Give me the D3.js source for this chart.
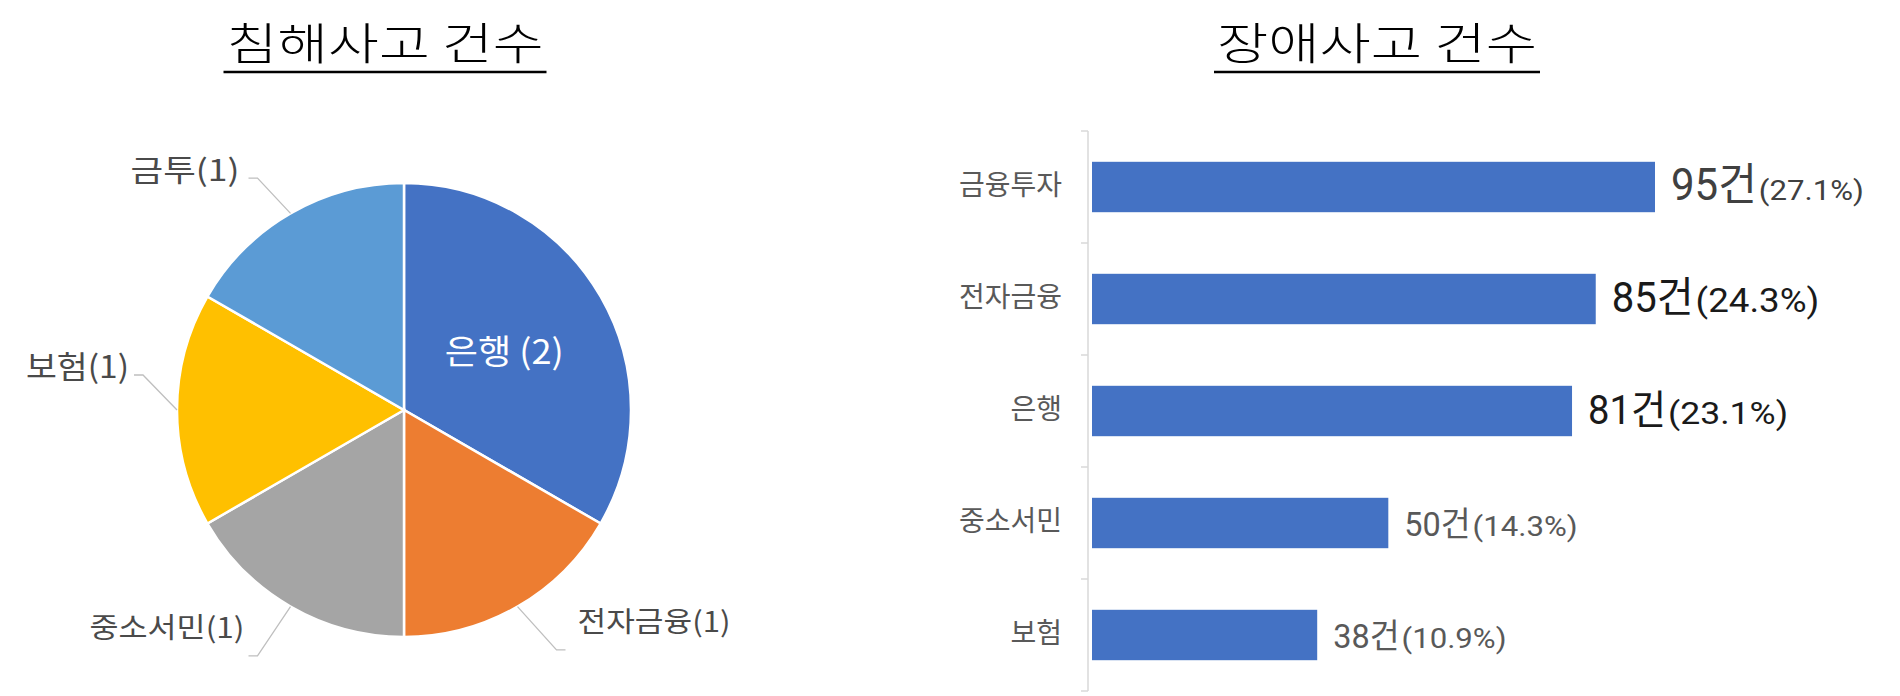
<!DOCTYPE html>
<html>
<head>
<meta charset="utf-8">
<script src="https://cdn.jsdelivr.net/npm/d3@7"></script>
<style>
  body { margin: 0; background: #fff; }
  svg { display: block; font-family: "Noto Sans CJK KR", "Noto Sans", sans-serif; }
</style>
</head>
<body>
<svg id="chart" width="1900" height="696"></svg>
<script>
// ---- data ----
var pieTitle = "침해사고  건수";
var pieCats = ["은행", "전자금융", "중소서민", "보험", "금투"];
var pieVals = [2, 1, 1, 1, 1];

var barTitle = "장애사고  건수";
var barCats = ["금융투자", "전자금융", "은행", "중소서민", "보험"];
var barVals = [95, 85, 81, 50, 38];
var barPcts = ["27.1%", "24.3%", "23.1%", "14.3%", "10.9%"];

// ---- styling ----
var pieColors = ["#4472C4", "#ED7D31", "#A5A5A5", "#FFC000", "#5B9BD5"];
// label nudges for the pie leader lines [elbow dx, elbow dy, text dx, text dy, anchor]
var pieLabelNudge = {
  "전자금융": [14, 0, 12, -18, "start"],
  "중소서민": [-8, 6, -4, -18, "end"],
  "보험": [16, -35, -5, 3, "end"],
  "금투": [-8, 8, -9, 3, "end"]
};
var pieLabelSize = { "은행": 34, "전자금융": 28, "중소서민": 28, "보험": 31, "금투": 30 };
// value label look per bar: [number size, pct size, colour]
var valStyle = [
  [44, 28, "#404040"],
  [42, 33, "#1a1a1a"],
  [40, 32, "#1a1a1a"],
  [34, 28, "#595959"],
  [34, 28, "#595959"]
];

var svg = d3.select("#chart");

function title(txt, cx, len) {
  svg.append("text")
    .attr("x", cx).attr("y", 60)
    .attr("text-anchor", "middle")
    .attr("font-size", 44)
    .attr("font-weight", 300)
    .attr("fill", "#000")
    .attr("textLength", len)
    .attr("lengthAdjust", "spacingAndGlyphs")
    .text(txt);
  svg.append("line")
    .attr("x1", cx - len / 2 - 3).attr("x2", cx + len / 2 + 3)
    .attr("y1", 72).attr("y2", 72)
    .attr("stroke", "#000").attr("stroke-width", 2.5);
}

// ================= pie =================
title(pieTitle, 385, 317);

var cx = 404, cy = 410, R = 227;
var pieData = pieCats.map(function(c, i) { return { cat: c, val: pieVals[i], color: pieColors[i] }; });

var pie = d3.pie().sort(null).value(function(d) { return d.val; });
var arc = d3.arc().innerRadius(0).outerRadius(R);
var arcs = pie(pieData);

var g = svg.append("g").attr("transform", "translate(" + cx + "," + cy + ")");

g.selectAll("path.slice")
  .data(arcs).enter().append("path")
  .attr("class", "slice")
  .attr("d", arc)
  .attr("fill", function(d) { return d.data.color; })
  .attr("stroke", "#fff")
  .attr("stroke-width", 2.5);

function pt(angle, r) { return [Math.sin(angle) * r, -Math.cos(angle) * r]; }

arcs.forEach(function(d) {
  var mid = (d.startAngle + d.endAngle) / 2;
  var name = d.data.cat;
  var label = name + "(" + d.data.val + ")";
  if (!pieLabelNudge[name]) {
    // inside label
    var c = d3.arc().innerRadius(0).outerRadius(R * 1.02).centroid(d);
    g.append("text")
      .attr("x", c[0]).attr("y", c[1] + 12)
      .attr("text-anchor", "middle")
      .attr("font-size", pieLabelSize[name])
      .attr("fill", "#fff")
      .attr("textLength", 119)
      .attr("lengthAdjust", "spacingAndGlyphs")
      .text(name + " (" + d.data.val + ")");
    return;
  }
  var nd = pieLabelNudge[name];
  var p0 = pt(mid, R);
  var p1 = pt(mid, R + 50);
  p1 = [p1[0] + nd[0], p1[1] + nd[1]];
  var side = nd[4] === "start" ? 1 : -1;
  var p2 = [p1[0] + side * 9, p1[1]];
  g.append("polyline")
    .attr("points", [p0, p1, p2].map(function(p) { return p.join(","); }).join(" "))
    .attr("fill", "none")
    .attr("stroke", "#bfbfbf")
    .attr("stroke-width", 1.3);
  var lens = { "전자금융": 153, "중소서민": 155, "보험": 103, "금투": 109 };
  g.append("text")
    .attr("x", p2[0] + nd[2]).attr("y", p2[1] + nd[3])
    .attr("text-anchor", nd[4])
    .attr("font-size", pieLabelSize[name])
    .attr("fill", "#4a4a4a")
    .attr("textLength", lens[name])
    .attr("lengthAdjust", "spacingAndGlyphs")
    .text(label);
});

// ================= bars =================
title(barTitle, 1377, 320);

var x = d3.scaleLinear().domain([0, 95]).range([1092, 1655]);
var y = d3.scaleBand().domain(barCats).range([131, 691]).paddingInner(0.55).paddingOuter(0.275);
var axisX = 1088;

// category labels
var ax = svg.append("g")
  .attr("transform", "translate(" + axisX + ",0)")
  .call(d3.axisLeft(y).tickSize(0).tickPadding(26));
ax.select(".domain").remove();
ax.selectAll("text")
  .attr("font-family", "Noto Sans CJK KR")
  .attr("font-size", 28)
  .attr("fill", "#595959")
  .attr("dy", "0.3em");

// axis line + boundary ticks
svg.append("line")
  .attr("x1", axisX).attr("x2", axisX)
  .attr("y1", y.range()[0]).attr("y2", y.range()[1])
  .attr("stroke", "#d9d9d9").attr("stroke-width", 1.5);
var bounds = [y.range()[0]].concat(barCats.map(function(c) {
  return y(c) + y.bandwidth() + (y.step() - y.bandwidth()) / 2;
}));
svg.selectAll("line.btick")
  .data(bounds).enter().append("line")
  .attr("class", "btick")
  .attr("x1", axisX - 7).attr("x2", axisX)
  .attr("y1", function(d) { return d; }).attr("y2", function(d) { return d; })
  .attr("stroke", "#d9d9d9").attr("stroke-width", 1.5);

svg.selectAll("rect.bar")
  .data(barVals).enter().append("rect")
  .attr("class", "bar")
  .attr("x", x(0))
  .attr("y", function(d, i) { return y(barCats[i]); })
  .attr("width", function(d) { return x(d) - x(0); })
  .attr("height", y.bandwidth())
  .attr("fill", "#4472C4");

// value labels
barVals.forEach(function(v, i) {
  var st = valStyle[i];
  var base = y(barCats[i]) + y.bandwidth() / 2 + 13;
  var x0 = x(v) + 16;
  var wantW1 = st[0] * 1.95;
  svg.append("text")
    .attr("x", x0).attr("y", base)
    .attr("font-size", st[0])
    .attr("fill", st[2])
    .attr("font-family", "Roboto, 'Noto Sans CJK KR'")
    .attr("textLength", wantW1)
    .attr("lengthAdjust", "spacingAndGlyphs")
    .text(v + "건");
  svg.append("text")
    .attr("x", x0 + wantW1 + 2).attr("y", base)
    .attr("font-size", st[1])
    .attr("fill", st[2])
    .attr("font-family", "Roboto, 'Noto Sans CJK KR'")
    .attr("textLength", st[1] * 3.75)
    .attr("lengthAdjust", "spacingAndGlyphs")
    .text("(" + barPcts[i] + ")");
});
</script>
</body>
</html>
